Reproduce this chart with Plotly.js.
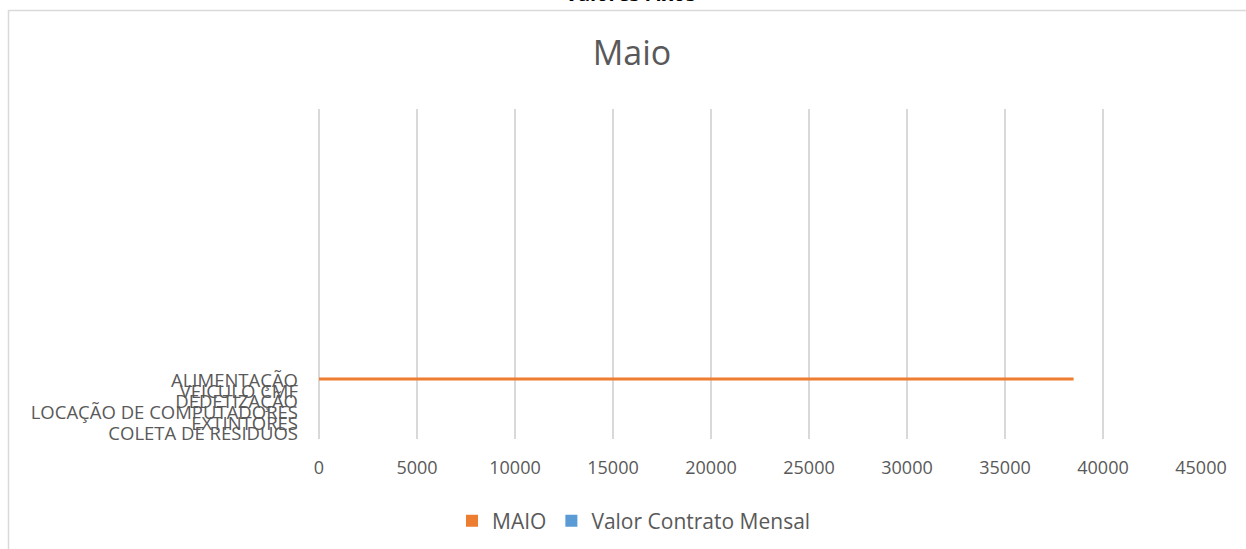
<!DOCTYPE html>
<html>
<head>
<meta charset="utf-8">
<script src="https://cdn.plot.ly/plotly-3.0.1.min.js"></script>
<style>html,body{margin:0;padding:0;background:#fff;}#chart{width:1246px;height:549px;}</style>
</head>
<body>
<div id="chart"></div>
<script>
const categories = ["COLETA DE RESIDUOS", "EXTINTORES", "LOCAÇÃO DE COMPUTADORES", "DEDETIZAÇÃO", "VEICULO CMF", "ALIMENTAÇÃO"];
const maioValues = [0, 0, 0, 0, 0, 38500];
const contratoValues = [0, 0, 0, 0, 0, 0];
const xTicks = [0, 5000, 10000, 15000, 20000, 25000, 30000, 35000, 40000, 45000];

const FONT = "Open Sans, sans-serif";
const GRAY = "#595959";

const traces = [
  {type: "bar", orientation: "h", name: "Valor Contrato Mensal", y: categories, x: contratoValues,
   marker: {color: "#5B9BD5"}, hoverinfo: "x+y+name"},
  {type: "bar", orientation: "h", name: "MAIO", y: categories, x: maioValues,
   marker: {color: "#ED7D31"}, hoverinfo: "x+y+name"}
];

const L = 319, R = 45, T = 109, B = 110;
const plotW = 1246 - L - R, plotH = 549 - T - B;
const px = v => (v - L) / plotW;
const py = v => (549 - B - v) / plotH;

const layout = {
  width: 1246, height: 549,
  margin: {l: L, r: R, t: T, b: B, pad: 0, autoexpand: false},
  paper_bgcolor: "#fff", plot_bgcolor: "#fff",
  font: {family: FONT, color: GRAY, size: 18},
  barmode: "group", bargap: 0.44, bargroupgap: 0,
  showlegend: true,
  title: {text: "Maio", font: {family: FONT, size: 34, color: GRAY},
          xref: "container", yref: "container", x: 632/1246, y: 1 - 53/549,
          xanchor: "center", yanchor: "middle"},
  xaxis: {range: [0, 45000], tickmode: "array", tickvals: xTicks, ticktext: xTicks.map(String),
          showgrid: true, gridcolor: "#d9d9d9", gridwidth: 1.3,
          zeroline: true, zerolinecolor: "#d9d9d9", zerolinewidth: 1.3,
          showline: false, ticks: "", ticklabelstandoff: 16, automargin: false,
          tickfont: {family: FONT, size: 18, color: GRAY}, fixedrange: true},
  yaxis: {type: "category", categoryorder: "array", categoryarray: categories,
          tickmode: "array", tickvals: categories, ticktext: categories,
          range: [-0.5, 30.5], showgrid: false, zeroline: false, showline: false,
          ticks: "", ticklabelstandoff: 20, ticklabeloverflow: "allow", automargin: false,
          tickfont: {family: FONT, size: 18.5, color: GRAY}, fixedrange: true},
  legend: {orientation: "h", traceorder: "reversed", x: px(452), xanchor: "left",
           y: py(521), yanchor: "middle", font: {family: FONT, size: 21, color: GRAY},
           bgcolor: "rgba(0,0,0,0)", itemwidth: 30},
  shapes: [
    {type: "rect", xref: "paper", yref: "paper", x0: px(8.5), x1: px(1300), y0: py(600), y1: py(10.5),
     line: {color: "#d9d9d9", width: 1.5}, fillcolor: "rgba(0,0,0,0)", layer: "below"}
  ],
  annotations: [
    {text: "<b>Valores Fixos</b>", xref: "paper", yref: "paper", x: px(630), y: py(9),
     xanchor: "center", yanchor: "bottom", showarrow: false,
     font: {family: FONT, size: 20, color: "#000"}}
  ]
};

Plotly.newPlot("chart", traces, layout, {displayModeBar: false, staticPlot: true});
</script>
</body>
</html>
